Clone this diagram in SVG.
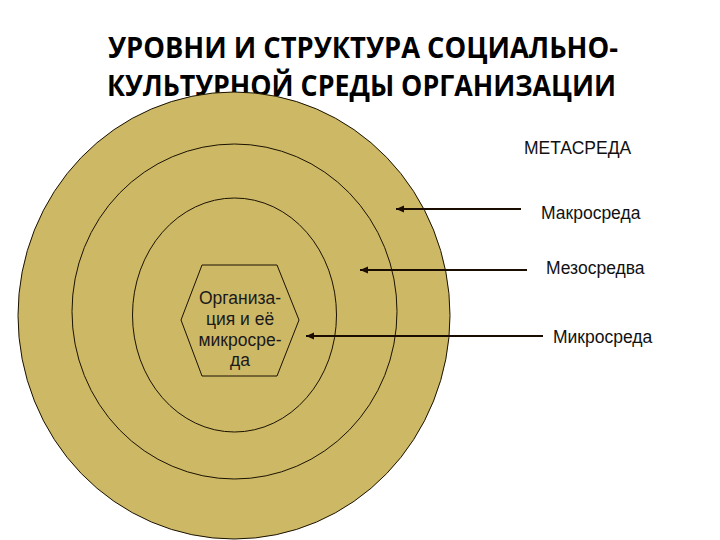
<svg xmlns="http://www.w3.org/2000/svg" width="720" height="540" viewBox="0 0 720 540">
<defs>
<style>
.title{font-family:"Open Sans","Liberation Sans",sans-serif;font-weight:bold;font-size:29px;fill:#000}
.ring{fill:#CDB866;stroke:#1a1200;stroke-width:1}
.lbl{font-family:"Liberation Sans",Arial,sans-serif;font-size:17.5px;fill:#111}
.org{font-family:"Liberation Sans",Arial,sans-serif;font-size:17.5px;fill:#1a1a1a;text-anchor:middle}
.arr{stroke:#1a0d00;stroke-width:2;fill:none;marker-end:url(#ah)}
</style>
<marker id="ah" markerUnits="userSpaceOnUse" markerWidth="9" markerHeight="8" refX="8" refY="4" orient="auto">
<path d="M0,0.5 L8,4 L0,7.5 z" fill="#1a0d00"/>
</marker>
</defs>
<rect width="720" height="540" fill="#fff"/>
<g id="title">
<text class="title" x="108" y="58" textLength="510" lengthAdjust="spacingAndGlyphs">УРОВНИ И СТРУКТУРА СОЦИАЛЬНО-</text>
<text class="title" x="107" y="96" textLength="509" lengthAdjust="spacingAndGlyphs">КУЛЬТУРНОЙ СРЕДЫ ОРГАНИЗАЦИИ</text>
</g>
<g id="metasreda">
<ellipse class="ring" cx="234" cy="315.5" rx="216" ry="223.5"/>
</g>
<g id="makrosreda">
<ellipse class="ring" cx="234.5" cy="311.5" rx="162.5" ry="167.5"/>
</g>
<g id="mezosreda">
<ellipse class="ring" cx="234.5" cy="315" rx="102" ry="117"/>
</g>
<g id="organization">
<polygon class="ring" points="202,265 277,265 299,320 277,376 202,376 181,320"/>
<text class="org" x="240" y="304">Организа-</text>
<text class="org" x="240" y="325">ция и её</text>
<text class="org" x="240" y="346">микросре-</text>
<text class="org" x="240" y="366">да</text>
</g>
<g id="connectors">
<line class="arr" x1="521" y1="209" x2="396" y2="209"/>
<line class="arr" x1="527" y1="270" x2="360" y2="270"/>
<line class="arr" x1="543" y1="336" x2="306" y2="336"/>
</g>
<g id="labels">
<text class="lbl" x="524" y="154">МЕТАСРЕДА</text>
<text class="lbl" x="541" y="219">Макросреда</text>
<text class="lbl" x="546" y="274">Мезосредва</text>
<text class="lbl" x="553" y="343">Микросреда</text>
</g>
</svg>
